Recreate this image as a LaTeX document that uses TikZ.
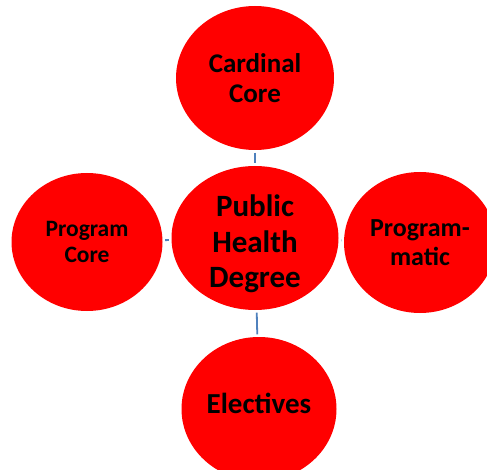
\documentclass[tikz,border=0pt]{standalone}
\usepackage{fontspec}
\setmainfont{Carlito}
\usetikzlibrary{shapes.geometric}
\definecolor{bubble}{RGB}{255,0,0}
\definecolor{link}{RGB}{79,129,189}
\tikzset{
  bubblenode/.style={ellipse, fill=bubble, draw=none, inner sep=0pt, align=center},
  linkline/.style={draw=link, line width=1.8pt, shorten <=2.5pt, shorten >=2.5pt}
}
\begin{document}
\begin{tikzpicture}[x=1pt,y=-1pt]
\useasboundingbox (0,0) rectangle (487,470);
\clip (0,0) rectangle (487,470);
\node[bubblenode, minimum width=158pt, minimum height=144pt,
  font={\bfseries\fontsize{27}{30.5}\selectfont}] (top) at (255,78) {Cardinal\\Core};
\node[bubblenode, minimum width=167pt, minimum height=144pt, inner sep=-30pt,
  font={\bfseries\fontsize{31}{35.5}\selectfont}] (mid) at (255,238)
  {\raisebox{0pt}[\dimexpr\height+12pt\relax]{Public}\\Health\\Degree};
\node[bubblenode, minimum width=151pt, minimum height=138pt,
  font={\bfseries\fontsize{23.5}{26.5}\selectfont}] (left) at (87,242) {Program\\Core};
\node[bubblenode, minimum width=152pt, minimum height=141pt,
  font={\bfseries\fontsize{26}{29.5}\selectfont}] (right) at (420,242.5) {Program-\\matic};
\node[bubblenode, minimum width=155pt, minimum height=144pt,
  font={\bfseries\fontsize{29}{33}\selectfont}] (bot) at (259,409)
  {\raisebox{0pt}[\height][\dimexpr\depth+11pt\relax]{Electives}};
\draw[linkline] (top) -- (mid);
\draw[linkline] (left) -- (mid);
\draw[linkline] (right) -- (mid);
\draw[linkline] (mid) -- (bot);
\end{tikzpicture}
\end{document}
